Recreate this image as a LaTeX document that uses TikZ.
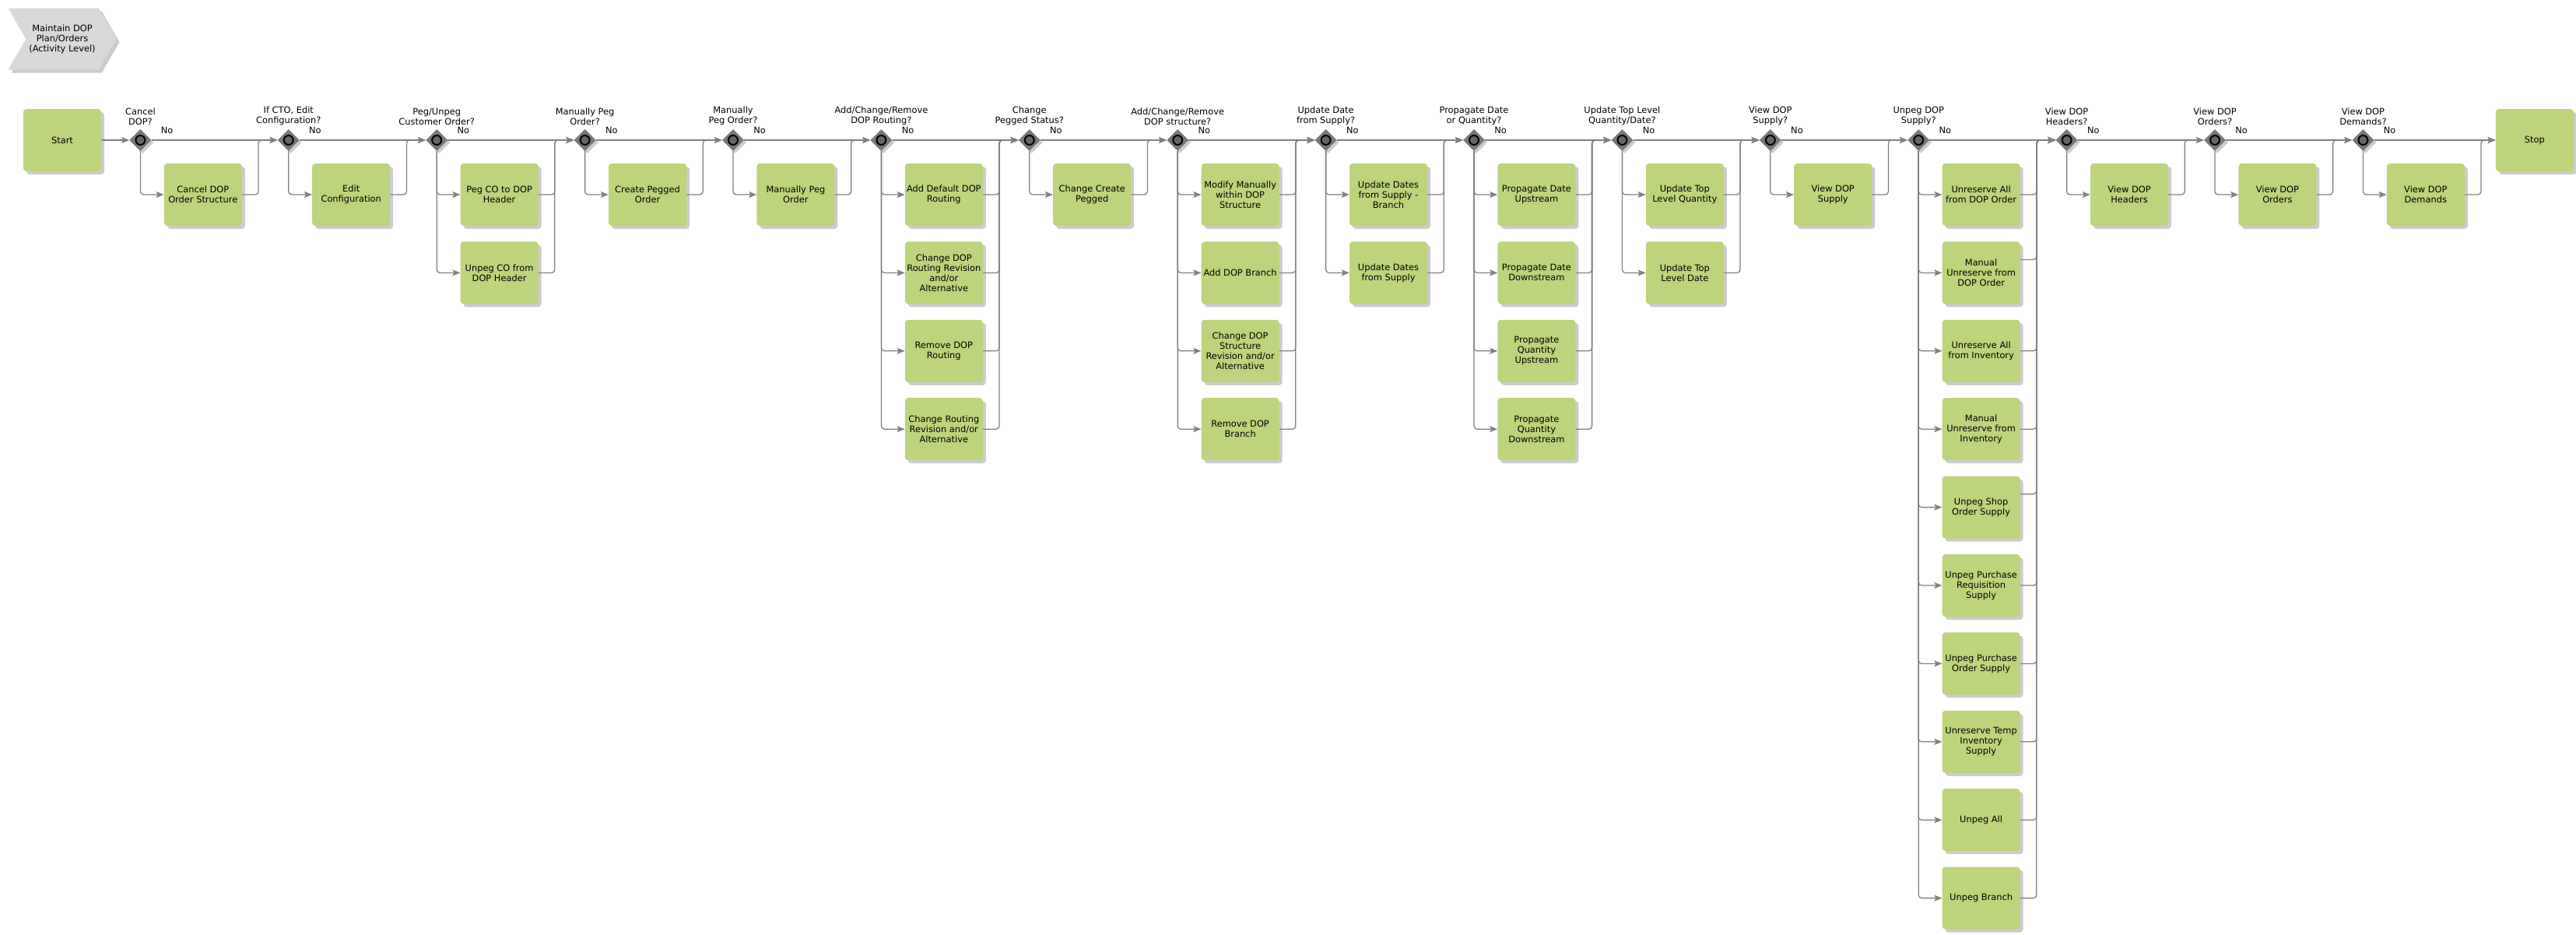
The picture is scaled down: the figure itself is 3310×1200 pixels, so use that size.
\documentclass[tikz,border=0pt]{standalone}
\usepackage{fontspec}
\setmainfont{DejaVu Sans}
\usepackage{xcolor}
\usepackage{tikz}
\usetikzlibrary{positioning,shapes.geometric,shapes.symbols,shadows,arrows.meta}
\definecolor{actgreen}{RGB}{189,211,124}
\definecolor{linegrey}{RGB}{128,128,128}
\definecolor{gategrey}{RGB}{120,120,120}
\definecolor{chevgrey}{RGB}{217,217,220}

\begin{document}
\begin{tikzpicture}[x=1pt,y=1pt,
    box/.style={rectangle,rounded corners=4pt,fill=actgreen,minimum width=100pt,minimum height=80pt,inner sep=1pt,align=center,font=\fontsize{11.4pt}{13pt}\selectfont,drop shadow={shadow xshift=4pt,shadow yshift=-4pt,fill=black,opacity=0.2}},
    gate/.style={diamond,fill=gategrey,minimum width=28pt,minimum height=28pt,inner sep=0pt,drop shadow={shadow xshift=3pt,shadow yshift=-3pt,fill=black,opacity=0.2},path picture={\draw[black,line width=2pt,fill=black!60](path picture bounding box.center)circle(6pt);}},
    chev/.style={signal,signal from=west,signal to=east,signal pointer angle=120,fill=chevgrey,minimum width=139pt,minimum height=79pt,inner sep=0pt,align=center,font=\fontsize{11.4pt}{13pt}\selectfont,drop shadow={shadow xshift=4pt,shadow yshift=-4pt,fill=black,opacity=0.2}},
    qlab/.style={align=center,inner sep=0pt,font=\fontsize{11.4pt}{13pt}\selectfont},
    nolab/.style={inner sep=0pt,font=\fontsize{11.4pt}{13pt}\selectfont},
    arr/.style={-{Stealth[length=10pt,width=8pt,inset=2pt]},draw=linegrey,line width=1.3pt,rounded corners=4pt}]
    \useasboundingbox (0,0) rectangle (3310,-1200);
    \node[box] (start) at (80,-180) {Start};
    \node[chev,above=50pt of start] (title) {Maintain DOP\\Plan/Orders\\(Activity Level)};
    \node[gate,right=36pt of start] (d1) {};
    \node[gate,right=162pt of d1] (d2) {};
    \node[gate,right=162pt of d2] (d3) {};
    \node[gate,right=162pt of d3] (d4) {};
    \node[gate,right=162pt of d4] (d5) {};
    \node[gate,right=162pt of d5] (d6) {};
    \node[gate,right=162pt of d6] (d7) {};
    \node[gate,right=162pt of d7] (d8) {};
    \node[gate,right=162pt of d8] (d9) {};
    \node[gate,right=162pt of d9] (d10) {};
    \node[gate,right=162pt of d10] (d11) {};
    \node[gate,right=162pt of d11] (d12) {};
    \node[gate,right=162pt of d12] (d13) {};
    \node[gate,right=162pt of d13] (d14) {};
    \node[gate,right=162pt of d14] (d15) {};
    \node[gate,right=162pt of d15] (d16) {};
    \node[box,right=156pt of d16] (stop) {Stop};
    \node[qlab,above=5pt of d1] (q1) {Cancel\\DOP?};
    \node[qlab,above=5pt of d2] (q2) {If CTO, Edit\\Configuration?};
    \node[qlab,above=5pt of d3] (q3) {Peg/Unpeg\\Customer Order?};
    \node[qlab,above=5pt of d4] (q4) {Manually Peg\\Order?};
    \node[qlab,above=5pt of d5] (q5) {Manually\\Peg Order?};
    \node[qlab,above=5pt of d6] (q6) {Add/Change/Remove\\DOP Routing?};
    \node[qlab,above=5pt of d7] (q7) {Change\\Pegged Status?};
    \node[qlab,above=5pt of d8] (q8) {Add/Change/Remove\\DOP structure?};
    \node[qlab,above=5pt of d9] (q9) {Update Date\\from Supply?};
    \node[qlab,above=5pt of d10] (q10) {Propagate Date\\or Quantity?};
    \node[qlab,above=5pt of d11] (q11) {Update Top Level\\Quantity/Date?};
    \node[qlab,above=5pt of d12] (q12) {View DOP\\Supply?};
    \node[qlab,above=5pt of d13] (q13) {Unpeg DOP\\Supply?};
    \node[qlab,above=5pt of d14] (q14) {View DOP\\Headers?};
    \node[qlab,above=5pt of d15] (q15) {View DOP\\Orders?};
    \node[qlab,above=5pt of d16] (q16) {View DOP\\Demands?};
    \node[nolab,above right=8pt and 12pt of d1.east] (n1) {No};
    \node[nolab,above right=8pt and 12pt of d2.east] (n2) {No};
    \node[nolab,above right=8pt and 12pt of d3.east] (n3) {No};
    \node[nolab,above right=8pt and 12pt of d4.east] (n4) {No};
    \node[nolab,above right=8pt and 12pt of d5.east] (n5) {No};
    \node[nolab,above right=8pt and 12pt of d6.east] (n6) {No};
    \node[nolab,above right=8pt and 12pt of d7.east] (n7) {No};
    \node[nolab,above right=8pt and 12pt of d8.east] (n8) {No};
    \node[nolab,above right=8pt and 12pt of d9.east] (n9) {No};
    \node[nolab,above right=8pt and 12pt of d10.east] (n10) {No};
    \node[nolab,above right=8pt and 12pt of d11.east] (n11) {No};
    \node[nolab,above right=8pt and 12pt of d12.east] (n12) {No};
    \node[nolab,above right=8pt and 12pt of d13.east] (n13) {No};
    \node[nolab,above right=8pt and 12pt of d14.east] (n14) {No};
    \node[nolab,above right=8pt and 12pt of d15.east] (n15) {No};
    \node[nolab,above right=8pt and 12pt of d16.east] (n16) {No};
    \node[box,right=16pt of d1,yshift=-70pt] (cancel) {Cancel DOP\\Order Structure};
    \node[box,right=16pt of d2,yshift=-70pt] (editcfg) {Edit\\Configuration};
    \node[box,right=16pt of d3,yshift=-70pt] (pegco) {Peg CO to DOP\\Header};
    \node[box,below=20pt of pegco] (unpegco) {Unpeg CO from\\DOP Header};
    \node[box,right=16pt of d4,yshift=-70pt] (createpeg) {Create Pegged\\Order};
    \node[box,right=16pt of d5,yshift=-70pt] (manpeg) {Manually Peg\\Order};
    \node[box,right=16pt of d6,yshift=-70pt] (addrt) {Add Default DOP\\Routing};
    \node[box,below=20pt of addrt] (chgrt) {Change DOP\\Routing Revision\\and/or\\Alternative};
    \node[box,below=20pt of chgrt] (remrt) {Remove DOP\\Routing};
    \node[box,below=20pt of remrt] (chgrtrev) {Change Routing\\Revision and/or\\Alternative};
    \node[box,right=16pt of d7,yshift=-70pt] (chgcreate) {Change Create\\Pegged};
    \node[box,right=16pt of d8,yshift=-70pt] (modstr) {Modify Manually\\within DOP\\Structure};
    \node[box,below=20pt of modstr] (addbr) {Add DOP Branch};
    \node[box,below=20pt of addbr] (chgstr) {Change DOP\\Structure\\Revision and/or\\Alternative};
    \node[box,below=20pt of chgstr] (rembr) {Remove DOP\\Branch};
    \node[box,right=16pt of d9,yshift=-70pt] (updbr) {Update Dates\\from Supply -\\Branch};
    \node[box,below=20pt of updbr] (updsup) {Update Dates\\from Supply};
    \node[box,right=16pt of d10,yshift=-70pt] (pdup) {Propagate Date\\Upstream};
    \node[box,below=20pt of pdup] (pddown) {Propagate Date\\Downstream};
    \node[box,below=20pt of pddown] (pqup) {Propagate\\Quantity\\Upstream};
    \node[box,below=20pt of pqup] (pqdown) {Propagate\\Quantity\\Downstream};
    \node[box,right=16pt of d11,yshift=-70pt] (topqty) {Update Top\\Level Quantity};
    \node[box,below=20pt of topqty] (topdate) {Update Top\\Level Date};
    \node[box,right=16pt of d12,yshift=-70pt] (viewsup) {View DOP\\Supply};
    \node[box,right=16pt of d13,yshift=-70pt] (unresord) {Unreserve All\\from DOP Order};
    \node[box,below=20pt of unresord] (manresord) {Manual\\Unreserve from\\DOP Order};
    \node[box,below=20pt of manresord] (unresinv) {Unreserve All\\from Inventory};
    \node[box,below=20pt of unresinv] (manresinv) {Manual\\Unreserve from\\Inventory};
    \node[box,below=20pt of manresinv] (unpegso) {Unpeg Shop\\Order Supply};
    \node[box,below=20pt of unpegso] (unpegpr) {Unpeg Purchase\\Requisition\\Supply};
    \node[box,below=20pt of unpegpr] (unpegpo) {Unpeg Purchase\\Order Supply};
    \node[box,below=20pt of unpegpo] (unrestemp) {Unreserve Temp\\Inventory\\Supply};
    \node[box,below=20pt of unrestemp] (unpegall) {Unpeg All};
    \node[box,below=20pt of unpegall] (unpegbr) {Unpeg Branch};
    \node[box,right=16pt of d14,yshift=-70pt] (viewhdr) {View DOP\\Headers};
    \node[box,right=16pt of d15,yshift=-70pt] (vieword) {View DOP\\Orders};
    \node[box,right=16pt of d16,yshift=-70pt] (viewdem) {View DOP\\Demands};
    \draw[arr](start)--(d1);\draw[arr](d1)--(d2);\draw[arr](d2)--(d3);\draw[arr](d3)--(d4);
    \draw[arr](d4)--(d5);\draw[arr](d5)--(d6);\draw[arr](d6)--(d7);\draw[arr](d7)--(d8);
    \draw[arr](d8)--(d9);\draw[arr](d9)--(d10);\draw[arr](d10)--(d11);\draw[arr](d11)--(d12);
    \draw[arr](d12)--(d13);\draw[arr](d13)--(d14);\draw[arr](d14)--(d15);\draw[arr](d15)--(d16);
    \draw[arr](d16)--(stop);
    \draw[arr](d1)|-(cancel);\draw[arr](cancel.east)--++(21,0)|-(d2);
    \draw[arr](d2)|-(editcfg);\draw[arr](editcfg.east)--++(21,0)|-(d3);
    \draw[arr](d3)|-(pegco);\draw[arr](pegco.east)--++(21,0)|-(d4);
    \draw[arr](d3)|-(unpegco);\draw[arr](unpegco.east)--++(21,0)|-(d4);
    \draw[arr](d4)|-(createpeg);\draw[arr](createpeg.east)--++(21,0)|-(d5);
    \draw[arr](d5)|-(manpeg);\draw[arr](manpeg.east)--++(21,0)|-(d6);
    \draw[arr](d6)|-(addrt);\draw[arr](addrt.east)--++(21,0)|-(d7);
    \draw[arr](d6)|-(chgrt);\draw[arr](chgrt.east)--++(21,0)|-(d7);
    \draw[arr](d6)|-(remrt);\draw[arr](remrt.east)--++(21,0)|-(d7);
    \draw[arr](d6)|-(chgrtrev);\draw[arr](chgrtrev.east)--++(21,0)|-(d7);
    \draw[arr](d7)|-(chgcreate);\draw[arr](chgcreate.east)--++(21,0)|-(d8);
    \draw[arr](d8)|-(modstr);\draw[arr](modstr.east)--++(21,0)|-(d9);
    \draw[arr](d8)|-(addbr);\draw[arr](addbr.east)--++(21,0)|-(d9);
    \draw[arr](d8)|-(chgstr);\draw[arr](chgstr.east)--++(21,0)|-(d9);
    \draw[arr](d8)|-(rembr);\draw[arr](rembr.east)--++(21,0)|-(d9);
    \draw[arr](d9)|-(updbr);\draw[arr](updbr.east)--++(21,0)|-(d10);
    \draw[arr](d9)|-(updsup);\draw[arr](updsup.east)--++(21,0)|-(d10);
    \draw[arr](d10)|-(pdup);\draw[arr](pdup.east)--++(21,0)|-(d11);
    \draw[arr](d10)|-(pddown);\draw[arr](pddown.east)--++(21,0)|-(d11);
    \draw[arr](d10)|-(pqup);\draw[arr](pqup.east)--++(21,0)|-(d11);
    \draw[arr](d10)|-(pqdown);\draw[arr](pqdown.east)--++(21,0)|-(d11);
    \draw[arr](d11)|-(topqty);\draw[arr](topqty.east)--++(21,0)|-(d12);
    \draw[arr](d11)|-(topdate);\draw[arr](topdate.east)--++(21,0)|-(d12);
    \draw[arr](d12)|-(viewsup);\draw[arr](viewsup.east)--++(21,0)|-(d13);
    \draw[arr](d13)|-(unresord);\draw[arr](unresord.east)--++(21,0)|-(d14);
    \draw[arr](d13)|-(manresord);\draw[arr]([yshift=17pt]manresord.east)--++(21,0)|-(d14);
    \draw[arr](d13)|-(unresinv);\draw[arr](unresinv.east)--++(21,0)|-(d14);
    \draw[arr](d13)|-(manresinv);\draw[arr](manresinv.east)--++(21,0)|-(d14);
    \draw[arr](d13)|-(unpegso);\draw[arr]([yshift=17pt]unpegso.east)--++(21,0)|-(d14);
    \draw[arr](d13)|-(unpegpr);\draw[arr](unpegpr.east)--++(21,0)|-(d14);
    \draw[arr](d13)|-(unpegpo);\draw[arr](unpegpo.east)--++(21,0)|-(d14);
    \draw[arr](d13)|-(unrestemp);\draw[arr](unrestemp.east)--++(21,0)|-(d14);
    \draw[arr](d13)|-(unpegall);\draw[arr](unpegall.east)--++(21,0)|-(d14);
    \draw[arr](d13)|-(unpegbr);\draw[arr](unpegbr.east)--++(21,0)|-(d14);
    \draw[arr](d14)|-(viewhdr);\draw[arr](viewhdr.east)--++(21,0)|-(d15);
    \draw[arr](d15)|-(vieword);\draw[arr](vieword.east)--++(21,0)|-(d16);
    \draw[arr](d16)|-(viewdem);\draw[arr](viewdem.east)--++(21,0)|-(stop);
\end{tikzpicture}
\end{document}
